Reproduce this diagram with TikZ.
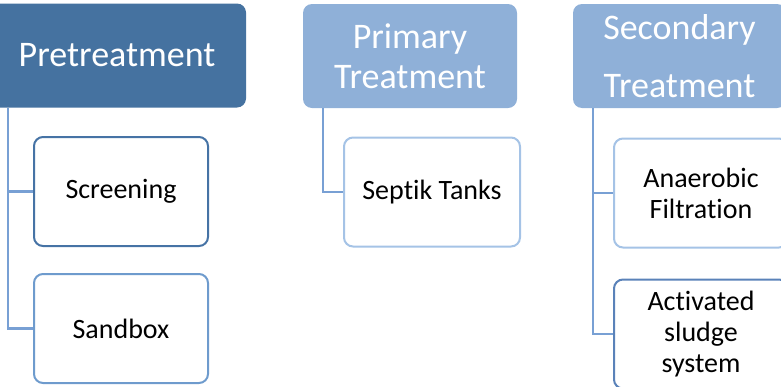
\documentclass[tikz,border=0pt]{standalone}
\usepackage{fontspec}
\setmainfont[Ligatures={NoCommon,NoContextual},Contextuals={NoAlternate}]{Carlito}
\usepackage{tikz}
\usetikzlibrary{positioning}
\definecolor{headdark}{RGB}{69,114,160}
\definecolor{headlight}{RGB}{143,176,216}
\definecolor{linkblue}{RGB}{120,160,212}
\definecolor{edgedark}{RGB}{70,115,165}
\definecolor{edgemid}{RGB}{110,155,205}
\definecolor{edgepale}{RGB}{165,195,230}
\definecolor{edgedeep}{RGB}{90,130,185}
\tikzstyle{head} = [rectangle, rounded corners=9pt, text=white, align=center,
  minimum height=104pt, inner sep=0pt, font=\fontsize{36}{40}\selectfont]
\tikzstyle{item} = [rectangle, draw, line width=2pt, rounded corners=9pt, fill=white,
  align=center, minimum width=174pt, minimum height=109pt, inner sep=0pt,
  font=\fontsize{28}{31}\selectfont]
\tikzstyle{branch} = [draw, line width=2.5pt, color=linkblue]

\begin{document}
\begin{tikzpicture}[x=1pt, y=-1pt]
    \useasboundingbox (0,0) rectangle (781,386);
    \clip (0,0) rectangle (781,386);

    \node[head, fill=headdark, minimum width=258pt] (pre) at (117,55.5) {Pretreatment};
    \node[head, fill=headlight, minimum width=214pt] (prim) at (410,56) {Primary\\Treatment};
    \node[head, fill=headlight, minimum width=213pt] (sec) at (679.5,56) {Secondary\\[18pt]Treatment};

    \node[item, draw=edgedark] (screen) at (121,191.5) {Screening};
    \node[item, draw=edgemid, below=26pt of screen] (sand) {Sandbox};

    \node[item, draw=edgepale, minimum width=176pt] (sept) at (432,192) {Septik Tanks};

    \node[item, draw=edgepale] (anae) at (701,193) {Anaerobic\\Filtration};
    \node[item, draw=edgedeep, below=30pt of anae] (act) {Activated\\sludge\\system};

    \path[branch] ([xshift=20pt]pre.south west) |- (screen.west);
    \path[branch] ([xshift=20pt]pre.south west) |- (sand.west);
    \path[branch] ([xshift=20pt]prim.south west) |- (sept.west);
    \path[branch] ([xshift=20pt]sec.south west) |- (anae.west);
    \path[branch] ([xshift=20pt]sec.south west) |- (act.west);
\end{tikzpicture}
\end{document}
